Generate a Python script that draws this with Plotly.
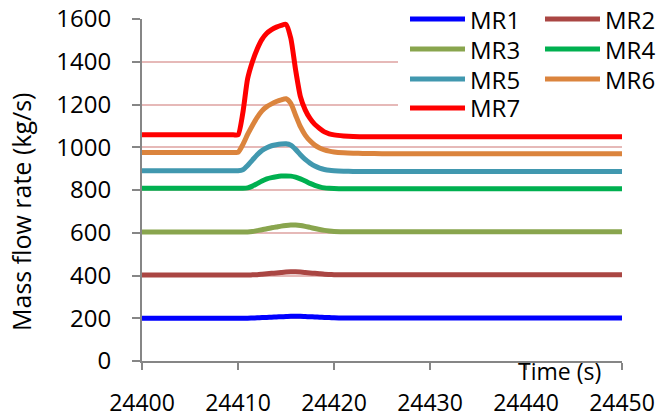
import plotly.graph_objects as go

# Time axis (s)
time_s = [24400, 24409.5, 24410, 24410.5, 24411, 24411.5, 24412, 24412.5, 24413, 24413.5,
          24414, 24414.5, 24415, 24415.5, 24416, 24416.5, 24417, 24417.5, 24418,
          24418.5, 24419, 24419.5, 24420, 24421, 24422, 24423, 24425, 24450]

# Mass flow rate per route (kg/s)
mr1 = [200, 200, 200, 200, 200, 201, 202, 203, 204, 205, 206, 207, 208, 209, 209, 209,
       208, 207, 206, 205, 204, 203, 202, 201, 201, 201, 201, 201]
mr2 = [402, 402, 402, 402, 402, 403, 404, 406, 408, 410, 412, 414, 416, 417, 417, 416,
       414, 412, 410, 408, 406, 405, 404, 403, 403, 403, 403, 403]
mr3 = [604, 604, 604, 604, 604, 606, 610, 614, 619, 623, 627, 631, 634, 636, 636, 634,
       630, 625, 620, 615, 611, 608, 606, 605, 605, 605, 605, 605]
mr4 = [808, 808, 808, 808, 810, 818, 830, 842, 852, 858, 862, 865, 866, 865, 860, 852,
       842, 831, 822, 815, 810, 808, 807, 806, 806, 806, 806, 806]
mr5 = [890, 890, 890, 895, 915, 940, 965, 985, 998, 1007, 1012, 1015, 1016, 1010, 990,
       965, 943, 926, 912, 902, 896, 892, 890, 888, 887, 887, 887, 887]
mr6 = [976, 976, 976, 1012, 1060, 1102, 1140, 1170, 1190, 1203, 1214, 1222, 1227, 1205,
       1150, 1096, 1057, 1030, 1010, 997, 988, 982, 978, 974, 972, 971, 970, 970]
mr7 = [1058, 1058, 1058, 1160, 1320, 1400, 1460, 1505, 1533, 1550, 1562, 1570, 1575, 1510,
       1362, 1237, 1175, 1135, 1107, 1088, 1072, 1063, 1058, 1053, 1050, 1049, 1049, 1049]

series_names = ["MR1", "MR2", "MR3", "MR4", "MR5", "MR6", "MR7"]
series_values = [mr1, mr2, mr3, mr4, mr5, mr6, mr7]
series_colors = ["#0000FF", "#AA4643", "#89A54E", "#00B050", "#4198AF", "#DB843D", "#FF0000"]

x_ticks = [24400, 24410, 24420, 24430, 24440, 24450]
y_ticks = [0, 200, 400, 600, 800, 1000, 1200, 1400, 1600]

FONT = "Open Sans"
W, H = 657, 417
ML, MR, MT, MB = 142, 35, 19, 56
PW, PH = W - ML - MR, H - MT - MB


def px_x(px):
    return (px - ML) / PW


def px_y(py):
    return (H - MB - py) / PH


fig = go.Figure()
for name, vals, col in zip(series_names, series_values, series_colors):
    fig.add_trace(go.Scatter(x=time_s, y=vals, mode="lines", name=name,
                             line=dict(color=col, width=5, shape="spline", smoothing=0.6),
                             showlegend=False))

# Legend drawn as a white panel with line swatches and labels (two columns)
shapes = [dict(type="rect", xref="paper", yref="paper", layer="above",
               x0=px_x(398), x1=px_x(657), y0=px_y(125), y1=px_y(0),
               fillcolor="white", line=dict(width=0))]
annotations = []
rows_y = [19, 49, 79, 108]
for i, (name, col) in enumerate(zip(series_names, series_colors)):
    row, colidx = divmod(i, 2)
    lx0 = 410 if colidx == 0 else 545
    yy = px_y(rows_y[row])
    shapes.append(dict(type="line", xref="paper", yref="paper", layer="above",
                       x0=px_x(lx0), x1=px_x(lx0 + 55), y0=yy, y1=yy,
                       line=dict(color=col, width=5)))
    annotations.append(dict(text=name, xref="paper", yref="paper", x=px_x(lx0 + 58), y=yy,
                            xanchor="left", yanchor="middle", showarrow=False,
                            font=dict(family=FONT, size=24, color="black")))

annotations.append(dict(text="Time (s)", xref="paper", yref="paper", x=px_x(603), y=px_y(371),
                        xanchor="right", yanchor="middle", showarrow=False,
                        font=dict(family=FONT, size=23, color="black")))
annotations.append(dict(text="Mass flow rate (kg/s)", xref="paper", yref="paper",
                        x=px_x(21), y=px_y(212), textangle=-90,
                        xanchor="center", yanchor="middle", showarrow=False,
                        font=dict(family=FONT, size=25, color="black")))

fig.update_layout(
    width=W, height=H,
    margin=dict(l=ML, r=MR, t=MT, b=MB, autoexpand=False),
    paper_bgcolor="white", plot_bgcolor="white",
    font=dict(family=FONT, size=23, color="black"),
    shapes=shapes, annotations=annotations,
    xaxis=dict(range=[24400, 24450], tickvals=x_ticks, tickformat="d", automargin=False,
               showgrid=False, zeroline=False, showline=True, linecolor="#868686",
               linewidth=2, ticks="outside", ticklen=7, tickwidth=2, tickcolor="#868686",
               ticklabelstandoff=13, tickfont=dict(family=FONT, size=23, color="black")),
    yaxis=dict(range=[0, 1600], tickvals=y_ticks, automargin=False, showgrid=True,
               gridcolor="#E6B9B8", gridwidth=1.6, zeroline=False, showline=True,
               linecolor="#868686", linewidth=2, ticks="outside", ticklen=8, tickwidth=2,
               tickcolor="#868686", ticklabelstandoff=16,
               tickfont=dict(family=FONT, size=24, color="black")),
)

fig.write_html("out.html")
